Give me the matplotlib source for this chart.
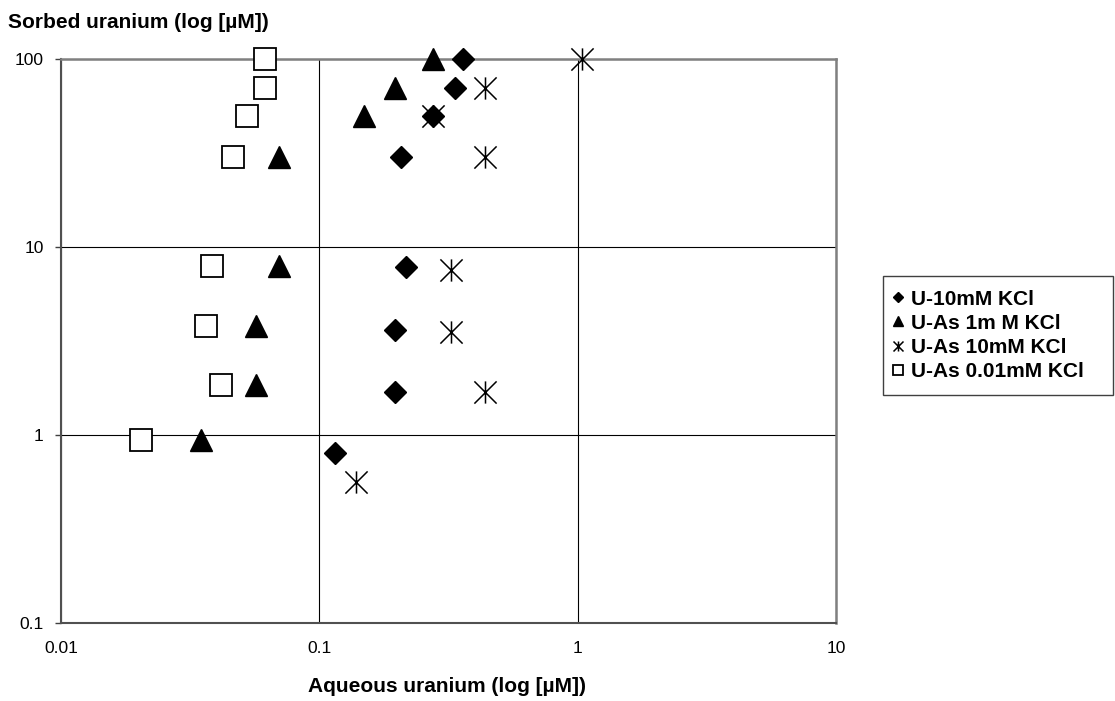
''' Sorbed vs aqueous uranium, log-log scatter for four KCl series '''

import matplotlib
matplotlib.use("Agg")
import matplotlib.pyplot as plt
from matplotlib.path import Path

# U-10mM KCl (diamonds)
u10_x = [0.36, 0.335, 0.275, 0.207, 0.217, 0.196, 0.196, 0.115]
u10_y = [100, 70, 50, 30, 7.8, 3.6, 1.7, 0.8]

# U-As 1m M KCl (triangles)
uas1_x = [0.275, 0.196, 0.149, 0.0698, 0.0698, 0.057, 0.057, 0.0348]
uas1_y = [100, 70, 50, 30, 7.9, 3.8, 1.85, 0.94]

# U-As 10mM KCl (asterisks)
uas10_x = [1.04, 0.438, 0.275, 0.438, 0.324, 0.324, 0.438, 0.139]
uas10_y = [100, 70, 50, 30, 7.5, 3.55, 1.7, 0.56]

# U-As 0.01mM KCl (open squares)
uas001_x = [0.0617, 0.0617, 0.0525, 0.0463, 0.0384, 0.0364, 0.0416, 0.0204]
uas001_y = [100, 70, 50, 30, 7.9, 3.8, 1.85, 0.94]

x_ticks = [0.01, 0.1, 1, 10]
x_tick_labels = ["0.01", "0.1", "1", "10"]
y_ticks = [0.1, 1, 10, 100]
y_tick_labels = ["0.1", "1", "10", "100"]

labels = ["U-10mM KCl", "U-As 1m M KCl", "U-As 10mM KCl", "U-As 0.01mM KCl"]


def asterisk_marker():
    # vertical bar plus an X, like the spreadsheet "star" marker
    verts = [(0, -1), (0, 1), (-1, -1), (1, 1), (-1, 1), (1, -1)]
    codes = [Path.MOVETO, Path.LINETO] * 3
    return Path(verts, codes)


def plot_uranium():
    plt.rcParams['font.family'] = ['Liberation Sans', 'DejaVu Sans']
    fig = plt.figure(figsize=(11.15, 7.01), dpi=100)
    ax = fig.add_axes([61 / 1115, 1 - 623 / 701, 775 / 1115, 564 / 701])
    ax.set_xscale("log")
    ax.set_yscale("log")
    ax.set_xlim(0.01, 10)
    ax.set_ylim(0.1, 100)

    ax.plot(u10_x, u10_y, linestyle="none", marker="D", markersize=11.5,
            color="black", label=labels[0], zorder=3, clip_on=False)
    ax.plot(uas1_x, uas1_y, linestyle="none", marker="^", markersize=15.5,
            color="black", label=labels[1], zorder=3, clip_on=False)
    ax.plot(uas10_x, uas10_y, linestyle="none", marker=asterisk_marker(),
            markersize=16, markeredgewidth=1.1, color="black",
            label=labels[2], zorder=4, clip_on=False)
    ax.plot(uas001_x, uas001_y, linestyle="none", marker="s", markersize=15.3,
            markerfacecolor="white", markeredgecolor="black",
            markeredgewidth=1.3, label=labels[3], zorder=3, clip_on=False)

    ax.set_xticks(x_ticks)
    ax.set_xticklabels(x_tick_labels)
    ax.set_yticks(y_ticks)
    ax.set_yticklabels(y_tick_labels)
    ax.minorticks_off()
    ax.tick_params(axis="x", length=0, pad=13, labelsize=12.5)
    ax.tick_params(axis="y", length=4.5, width=1, pad=8, labelsize=12.5,
                   color="#404040")
    ax.grid(True, color="black", linewidth=0.8)
    ax.set_axisbelow(True)
    for side in ["top", "right"]:
        ax.spines[side].set_color("#808080")
        ax.spines[side].set_linewidth(1.8)
    for side in ["left", "bottom"]:
        ax.spines[side].set_color("#505050")
        ax.spines[side].set_linewidth(1.5)

    fig.text(8 / 1115, 1 - 22 / 701, "Sorbed uranium (log [µM])",
             fontsize=15, fontweight="bold", ha="left", va="center")
    fig.text(446.5 / 1115, 1 - 687 / 701, "Aqueous uranium (log [µM])",
             fontsize=15, fontweight="bold", ha="center", va="center")

    leg = ax.legend(loc="upper left",
                    bbox_to_anchor=(883 / 1115, 1 - 406 / 701, 230 / 1115, 130 / 701),
                    bbox_transform=fig.transFigure, borderaxespad=0, mode="expand",
                    markerscale=0.45, handlelength=0.15, handletextpad=0.55,
                    labelspacing=0.25, borderpad=0.65, fancybox=False,
                    framealpha=1, edgecolor="#404040",
                    prop={"size": 15, "weight": "bold"})
    leg.get_frame().set_linewidth(1)

    plt.savefig("out.png", dpi=100)


if __name__ == "__main__":
    plot_uranium()
